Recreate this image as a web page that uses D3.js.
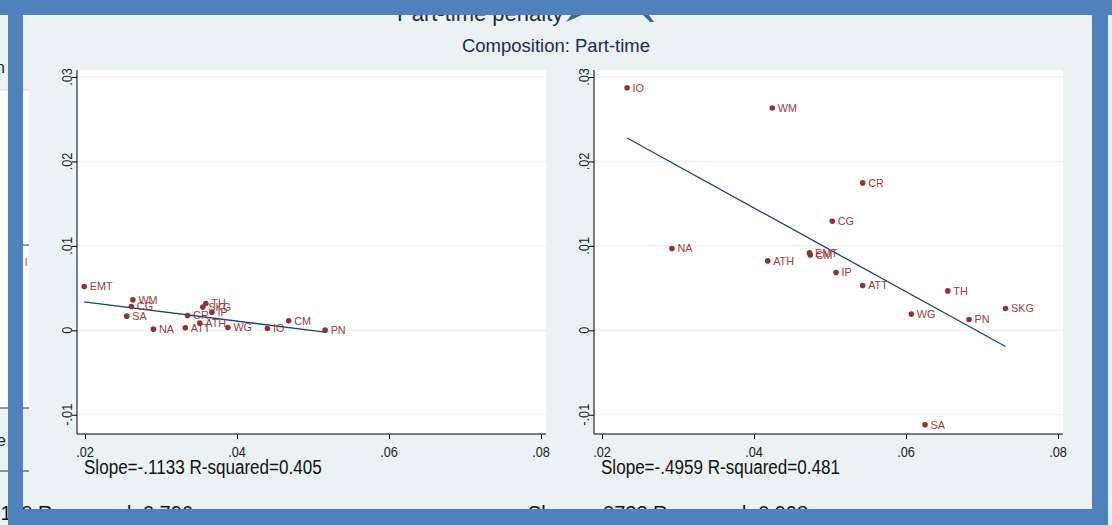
<!DOCTYPE html>
<html>
<head>
<meta charset="utf-8">
<script src="https://cdn.jsdelivr.net/npm/d3@7"></script>
<style>
  body { margin: 0; background: #eaf2f3; }
  svg { display: block; }
</style>
</head>
<body>
<div id="chart"></div>
<script>
// data
let codes = ['EMT', 'WM', 'CG', 'SA', 'NA', 'ATT', 'CR', 'ATH', 'TH', 'SKG', 'IP', 'WG', 'IO', 'CM', 'PN']

let leftX = [0.0199, 0.0263, 0.0261, 0.0255, 0.0290, 0.0332, 0.0335, 0.0351, 0.0359, 0.0355, 0.0367, 0.0388, 0.0440, 0.0468, 0.0516]
let leftY = [0.00518, 0.00361, 0.00282, 0.00168, 0.00014, 0.00030, 0.00175, 0.00085, 0.00317, 0.00275, 0.00215, 0.00033, 0.00021, 0.00112, 0.00002]

let rightX = [0.0473, 0.0424, 0.0503, 0.0625, 0.0292, 0.0543, 0.0543, 0.0418, 0.0655, 0.0731, 0.0508, 0.0607, 0.0233, 0.0474, 0.0683]
let rightY = [0.00917, 0.02633, 0.01292, -0.01118, 0.00968, 0.00530, 0.01746, 0.00822, 0.00467, 0.00258, 0.00684, 0.00192, 0.02873, 0.00893, 0.00128]

let fitSlope = [-0.1133, -0.4959]
let fitIntercept = [0.00562, 0.03433]
let fitLabels = ['Slope=-.1133 R-squared=0.405', 'Slope=-.4959 R-squared=0.481']

let xTicks = [0.02, 0.04, 0.06, 0.08]
let yTicks = [-0.01, 0, 0.01, 0.02, 0.03]
let fmt = d => d === 0 ? '0' : (d < 0 ? '-' : '') + d3.format('.2f')(Math.abs(d)).replace('0.', '.')

let title = 'Composition: Part-time'
let backTitle = 'Part-time penalty'
let backStats = ['Slope=-.0118 R-squared=0.796', 'Slope=-.0723 R-squared=0.998']

let W = 1112, H = 525
let blue = '#4f81bd', panelBg = '#eaf2f3', maroon = '#90323a', navy = '#1a476f'
let font = 'Arial, "Liberation Sans", sans-serif'

let svg = d3.select('#chart')
    .append('svg')
    .attr('width', W)
    .attr('height', H)

svg.append('rect').attr('width', W).attr('height', H).attr('fill', panelBg)

// bits of the slide behind the window, far left
svg.append('rect').attr('x', 0).attr('y', 90).attr('width', 30).attr('height', 318).attr('fill', '#ffffff')
svg.append('line').attr('x1', 0).attr('x2', 40).attr('y1', 90).attr('y2', 90).attr('stroke', '#d8dde2')
svg.append('line').attr('x1', 0).attr('x2', 30).attr('y1', 408).attr('y2', 408).attr('stroke', '#333')
svg.append('line').attr('x1', 0).attr('x2', 30).attr('y1', 471).attr('y2', 471).attr('stroke', '#333')
svg.append('text').attr('x', -4).attr('y', 73).attr('font-family', font).attr('font-size', 16).attr('fill', '#222').text('n')
svg.append('text').attr('x', -3).attr('y', 446).attr('font-family', font).attr('font-size', 16).attr('fill', '#222').text('e .')
svg.append('line').attr('x1', 23).attr('x2', 30).attr('y1', 245).attr('y2', 245).attr('stroke', navy)
svg.append('text').attr('x', 25).attr('y', 266).attr('font-family', font).attr('font-size', 10).attr('fill', maroon).text('l')

// the window panel
svg.append('rect').attr('x', 29).attr('y', 15).attr('width', 1063).attr('height', 494).attr('fill', panelBg)

// text of the slide, half hidden by the frame
svg.append('text')
    .attr('x', 397).attr('y', 21)
    .attr('font-family', font).attr('font-size', 22)
    .attr('fill', '#1f2d4f')
    .text(backTitle)
svg.append('path').attr('d', 'M566,22 L584,14 L572,14 Z').attr('fill', '#3c6496')
svg.append('path').attr('d', 'M642,14 L648,14 L654,22 L650,22 Z').attr('fill', '#3c6496')

svg.append('text')
    .attr('x', 556).attr('y', 52)
    .attr('text-anchor', 'middle')
    .attr('font-family', font).attr('font-size', 18.5)
    .attr('fill', '#1f2a55')
    .text(title)

let yScale = d3.scaleLinear().domain([-0.01, 0.03]).range([414.75, 77])

function panel(dx, xs, ys, k) {
    let g = svg.append('g').attr('transform', `translate(${dx},0)`)
    let xScale = d3.scaleLinear().domain([0.02, 0.08]).range([85, 541])

    g.append('rect').attr('x', 77).attr('y', 70).attr('width', 469).attr('height', 364).attr('fill', '#ffffff')

    g.selectAll('.grid')
        .data(yTicks)
        .enter()
        .append('line')
        .attr('x1', 77).attr('x2', 546)
        .attr('y1', d => yScale(d)).attr('y2', d => yScale(d))
        .attr('stroke', panelBg).attr('stroke-width', 1.2)

    let yAxis = d3.axisLeft(yScale).tickValues(yTicks).tickSize(5).tickFormat('')
    g.append('g').attr('transform', 'translate(77,0)').call(yAxis)
        .call(a => a.select('.domain').attr('d', 'M0,70V434'))
    let xAxis = d3.axisBottom(xScale).tickValues(xTicks).tickSize(5).tickFormat('')
    g.append('g').attr('transform', 'translate(0,434)').call(xAxis)
        .call(a => a.select('.domain').attr('d', 'M77,0H546'))

    // condensed look: squeeze the glyphs along the reading direction
    g.selectAll('.ylab')
        .data(yTicks)
        .enter()
        .append('text')
        .attr('transform', d => `translate(71.5,${yScale(d)}) rotate(-90) scale(0.85,1)`)
        .attr('text-anchor', 'middle')
        .attr('font-family', font)
        .attr('font-size', 15)
        .attr('fill', '#222')
        .text(fmt)

    g.selectAll('.xlab')
        .data(xTicks)
        .enter()
        .append('text')
        .attr('transform', d => `translate(${xScale(d)},456.5) scale(0.85,1)`)
        .attr('text-anchor', 'middle')
        .attr('font-family', font)
        .attr('font-size', 15)
        .attr('fill', '#222')
        .text(fmt)

    let x0 = d3.min(xs), x1 = d3.max(xs)
    g.append('line')
        .attr('x1', xScale(x0)).attr('y1', yScale(fitIntercept[k] + fitSlope[k] * x0))
        .attr('x2', xScale(x1)).attr('y2', yScale(fitIntercept[k] + fitSlope[k] * x1))
        .attr('stroke', navy).attr('stroke-width', 1.3)

    g.selectAll('.dot')
        .data(codes)
        .enter()
        .append('circle')
        .attr('cx', (d, i) => xScale(xs[i]))
        .attr('cy', (d, i) => yScale(ys[i]))
        .attr('r', 2.8)
        .attr('fill', maroon)

    g.selectAll('.lab')
        .data(codes)
        .enter()
        .append('text')
        .attr('x', (d, i) => xScale(xs[i]) + 5.5)
        .attr('y', (d, i) => yScale(ys[i]) + 3.8)
        .attr('font-family', font)
        .attr('font-size', 10.8)
        .attr('fill', '#9b3a40')
        .text(d => d)

    g.append('text')
        .attr('transform', 'translate(84,474) scale(0.875,1)')
        .attr('font-family', font)
        .attr('font-size', 19.5)
        .attr('fill', '#111')
        .text(fitLabels[k])
}

panel(0, leftX, leftY, 0)
panel(517, rightX, rightY, 1)

// stats of the slide below, cut by the frame
svg.append('text').attr('x', 193).attr('y', 520).attr('text-anchor', 'end')
    .attr('font-family', font).attr('font-size', 20).attr('fill', '#111').text(backStats[0])
svg.append('text').attr('x', 528).attr('y', 520)
    .attr('font-family', font).attr('font-size', 20).attr('fill', '#111').text(backStats[1])

// blue frame
svg.append('rect').attr('x', 0).attr('y', 0).attr('width', W).attr('height', 15).attr('fill', blue)
svg.append('rect').attr('x', 8).attr('y', 0).attr('width', 15).attr('height', H).attr('fill', blue)
svg.append('rect').attr('x', 1092).attr('y', 0).attr('width', 16).attr('height', H).attr('fill', blue)
svg.append('rect').attr('x', 8).attr('y', 509).attr('width', 1100).attr('height', 16).attr('fill', blue)
</script>
</body>
</html>
